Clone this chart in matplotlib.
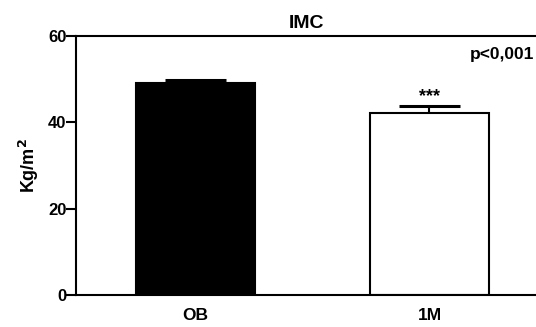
import numpy as np
import matplotlib.pyplot as plt

plt.rcParams['font.family'] = ['Liberation Sans', 'DejaVu Sans']
plt.rcParams['font.weight'] = 'bold'

groups = ['OB', '1M']
imc_mean = [49.0, 42.1]
imc_err = [0.8, 1.6]
bar_colors = ['black', 'white']
signif = ['', '***']

fig = plt.figure(figsize=(5.36, 3.27), dpi=100)
ax = fig.add_axes([76/536, 1 - 295/327, (536 - 76)/536, (295 - 36)/327])

x = np.arange(len(groups))
ax.bar(x, imc_mean, width=0.51, color=bar_colors, edgecolor='black', linewidth=1.5, zorder=2)
# upper error bars only
tops = np.array(imc_mean) + np.array(imc_err)
ax.vlines(x, imc_mean, tops, color='black', linewidth=1.5, zorder=3)
ax.hlines(tops, x - 0.13, x + 0.13, color='black', linewidth=2.2, zorder=3)

for xi, t, s in zip(x, tops, signif):
    if s:
        ax.text(xi, t + 0.2, s, ha='center', va='bottom', fontsize=13, fontweight='bold')

ax.text(0.997, 55.8, 'p<0,001', ha='right', va='center', fontsize=12.5, fontweight='bold',
        transform=ax.get_yaxis_transform())

ax.set_xlim(-0.51, 1.455)
ax.set_ylim(0, 60)
ax.set_yticks([0, 20, 40, 60])
ax.set_xticks(x)
ax.set_xticklabels(groups, fontsize=12.5, fontweight='bold')
ax.tick_params(axis='x', length=0, pad=9)
ax.tick_params(axis='y', direction='out', length=7, width=1.5, labelsize=12, pad=0)
for lbl in ax.get_yticklabels():
    lbl.set_fontweight('bold')

ax.spines['right'].set_visible(False)
for sp in ['left', 'bottom', 'top']:
    ax.spines[sp].set_linewidth(1.5)

ax.set_ylabel('Kg/m$^\\mathbf{2}$', fontsize=13, fontweight='bold', labelpad=5)
ax.set_title('IMC', fontsize=14, fontweight='bold', pad=6)

fig.savefig('out.png', dpi=100)
